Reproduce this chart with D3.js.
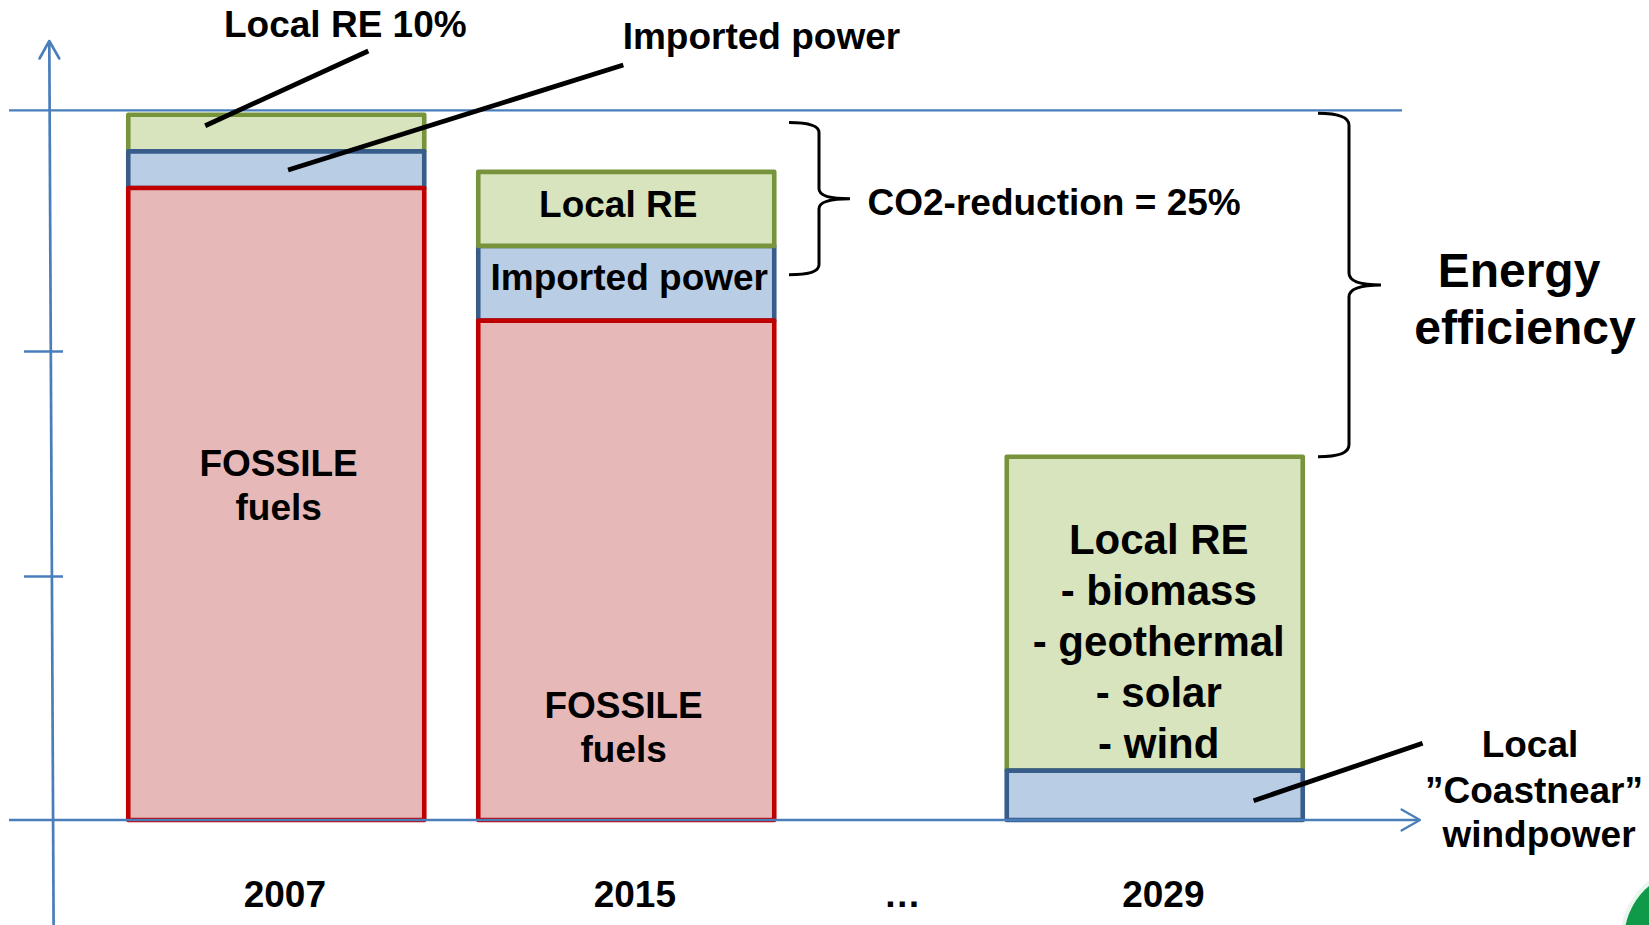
<!DOCTYPE html>
<html><head><meta charset="utf-8">
<script src="https://cdn.jsdelivr.net/npm/d3@7"></script>
<style>html,body{margin:0;padding:0;background:#fff;overflow:hidden}</style>
</head><body>
<svg id="chart" width="1649" height="925"></svg>
<script>
// ---------------- data ----------------
const years = ["2007", "2015", "2029"];
const fossilFuels   = [89.6, 70.8, 0];
const importedPower = [5.2, 10.6, 7.0];   // 2029: local "Coastnear" windpower
const localRE       = [5.2, 10.5, 44.5];
const xLabels = ["2007", "2015", "…", "2029"];
const yTickValues = [34.6, 66.5];
const referenceLevel = 100.6;
const co2Span = [77.3, 98.9];

// ---------------- layout ----------------
const W = 1649, H = 925;
const FONT = "'Liberation Sans', Arial, Helvetica, sans-serif";
const AXIS = "#4A7EBB";
const colors = {
  fossil:   {fill: "#E6B9B8", stroke: "#C00000"},
  imported: {fill: "#B9CDE5", stroke: "#385D8A"},
  re:       {fill: "#D7E4BD", stroke: "#77933C"}
};
const slot = {"2007": 0, "2015": 1, "…": 1.764, "2029": 2.51};
const barW = 296;

const svg = d3.select("#chart");
const y = d3.scaleLinear().domain([0, 100]).range([820, 114.7]);
const xc = d3.scaleLinear().domain([0, 1]).range([276.25, 626.25]);

// stacked data
const table = years.map((yr, i) => ({year: yr, fossil: fossilFuels[i], imported: importedPower[i], re: localRE[i]}));
const series = d3.stack().keys(["fossil", "imported", "re"])(table);

// reference (top) line
svg.append("line")
  .attr("x1", 9).attr("x2", 1402)
  .attr("y1", y(referenceLevel)).attr("y2", y(referenceLevel))
  .attr("stroke", AXIS).attr("stroke-width", 2.3);

// bars: draw green, then blue, then red on top
const drawOrder = series.slice().reverse();
const barsG = svg.append("g");
const layer = barsG.selectAll("g").data(drawOrder).join("g");
layer.selectAll("rect")
  .data(s => s.map(d => ({key: s.key, d})).filter(o => o.d[1] - o.d[0] > 0))
  .join("rect")
  .attr("x", o => xc(slot[o.d.data.year]) - barW / 2)
  .attr("width", barW)
  .attr("y", o => y(o.d[1]))
  .attr("height", o => y(o.d[0]) - y(o.d[1]))
  .attr("fill", o => colors[o.key].fill)
  .attr("stroke", o => colors[o.key].stroke)
  .attr("stroke-width", 4.6)
  .attr("stroke-linejoin", "round");
// in the 2015 bar the green box border lies over the blue one
barsG.selectAll("rect").filter(o => o.key === "re" && o.d.data.year === "2015")
  .each(function() { barsG.node().appendChild(this); });

// x axis with arrow
svg.append("line")
  .attr("x1", 9).attr("x2", 1419)
  .attr("y1", y(0)).attr("y2", y(0))
  .attr("stroke", AXIS).attr("stroke-width", 2.6);
svg.append("path")
  .attr("d", `M1401.5,${y(0) - 10.5} L1420,${y(0)} L1401.5,${y(0) + 10.5}`)
  .attr("fill", "none").attr("stroke", AXIS).attr("stroke-width", 2.2)
  .attr("stroke-linecap", "round").attr("stroke-linejoin", "round");

// y axis (slightly tilted, as in the original) with arrow
svg.append("line")
  .attr("x1", 49.3).attr("y1", 41.5).attr("x2", 53.6).attr("y2", 925)
  .attr("stroke", AXIS).attr("stroke-width", 2.7);
svg.append("path")
  .attr("d", "M39.5,58.5 L49.3,41 L59.3,58.5")
  .attr("fill", "none").attr("stroke", AXIS).attr("stroke-width", 2.6)
  .attr("stroke-linecap", "round").attr("stroke-linejoin", "round");
const yAxis = svg.append("g").attr("transform", "translate(63,0)")
  .call(d3.axisLeft(y).tickValues(yTickValues).tickSize(39).tickFormat(""));
yAxis.select(".domain").remove();
yAxis.selectAll(".tick line").attr("stroke", AXIS).attr("stroke-width", 2.4);

// x labels
svg.append("g").selectAll("text").data(xLabels).join("text")
  .attr("x", d => xc(slot[d]) + 8.6)
  .attr("y", 907)
  .attr("text-anchor", "middle")
  .attr("font-family", FONT).attr("font-weight", "bold").attr("font-size", 37)
  .attr("fill", "#000")
  .text(d => d);

// ---------------- annotations ----------------
function txt(lines, x, y0, size, anchor, lh) {
  const t = svg.append("text")
    .attr("font-family", FONT).attr("font-weight", "bold")
    .attr("font-size", size).attr("text-anchor", anchor || "middle").attr("fill", "#000");
  lines.forEach((l, i) => t.append("tspan").attr("x", x).attr("y", y0 + i * (lh || 0)).text(l));
  return t;
}
const cx = yr => xc(slot[yr]);

// in-bar labels
txt(["FOSSILE", "fuels"], cx("2007") + 2.4, 476, 37, "middle", 44);
txt(["FOSSILE", "fuels"], cx("2015") - 2.6, 718, 37, "middle", 44);
txt(["Local RE"], cx("2015") - 8, 216.7, 37);
txt(["Imported power"], cx("2015") + 3, 290, 37);
txt(["Local RE", "- biomass", "- geothermal", "- solar", "- wind"], cx("2029") + 4, 553.5, 42, "middle", 51);

// outside labels
txt(["Local RE 10%"], 224, 37.3, 37, "start");
txt(["Imported power"], 622.7, 49.3, 37, "start");
txt(["CO2-reduction = 25%"], 867.5, 215, 37, "start");
txt(["Energy"], 1519, 287, 48);
txt(["efficiency"], 1525, 344, 48);
txt(["Local"], 1530, 757, 37);
txt(["\u201DCoastnear\u201D"], 1534, 802.5, 37);
txt(["windpower"], 1539, 846.6, 37);

// leader lines (end points anchored in data space inside the bars)
const barX = (yr, f) => cx(yr) - barW / 2 + f * barW;
const leaders = [
  {x1: 368.3, y1: 51,    x2: barX("2007", 0.26), y2: y(98.44)},
  {x1: 623.3, y1: 65,    x2: barX("2007", 0.54), y2: y(92.16)},
  {x1: 1422.6, y1: 743.3, x2: barX("2029", 0.834), y2: y(2.74)}
];
svg.append("g").selectAll("line").data(leaders).join("line")
  .attr("x1", d => d.x1).attr("y1", d => d.y1)
  .attr("x2", d => d.x2).attr("y2", d => d.y2)
  .attr("stroke", "#000").attr("stroke-width", 4.8);

// braces
function brace(x0, xv, xt, yTop, yBot, r) {
  const ym = (yTop + yBot) / 2;
  return `M${x0},${yTop} Q${xv},${yTop} ${xv},${yTop + r} L${xv},${ym - r} ` +
         `Q${xv},${ym} ${xt},${ym} Q${xv},${ym} ${xv},${ym + r} ` +
         `L${xv},${yBot - r} Q${xv},${yBot} ${x0},${yBot}`;
}
const total = i => fossilFuels[i] + importedPower[i] + localRE[i];
svg.append("path")
  .attr("d", brace(789, 819, 850, y(co2Span[1]), y(co2Span[0]), 10))
  .attr("fill", "none").attr("stroke", "#000").attr("stroke-width", 3);
svg.append("path")
  .attr("d", brace(1318, 1349, 1381, y(total(0)) - 1.4, y(total(2)), 12))
  .attr("fill", "none").attr("stroke", "#000").attr("stroke-width", 3);

// partial logo in the corner
svg.append("circle").attr("cx", 1695).attr("cy", 940).attr("r", 75).attr("fill", "#EAF5EE");
svg.append("circle").attr("cx", 1695).attr("cy", 940).attr("r", 71).attr("fill", "#0E9A48");
</script>
</body></html>
